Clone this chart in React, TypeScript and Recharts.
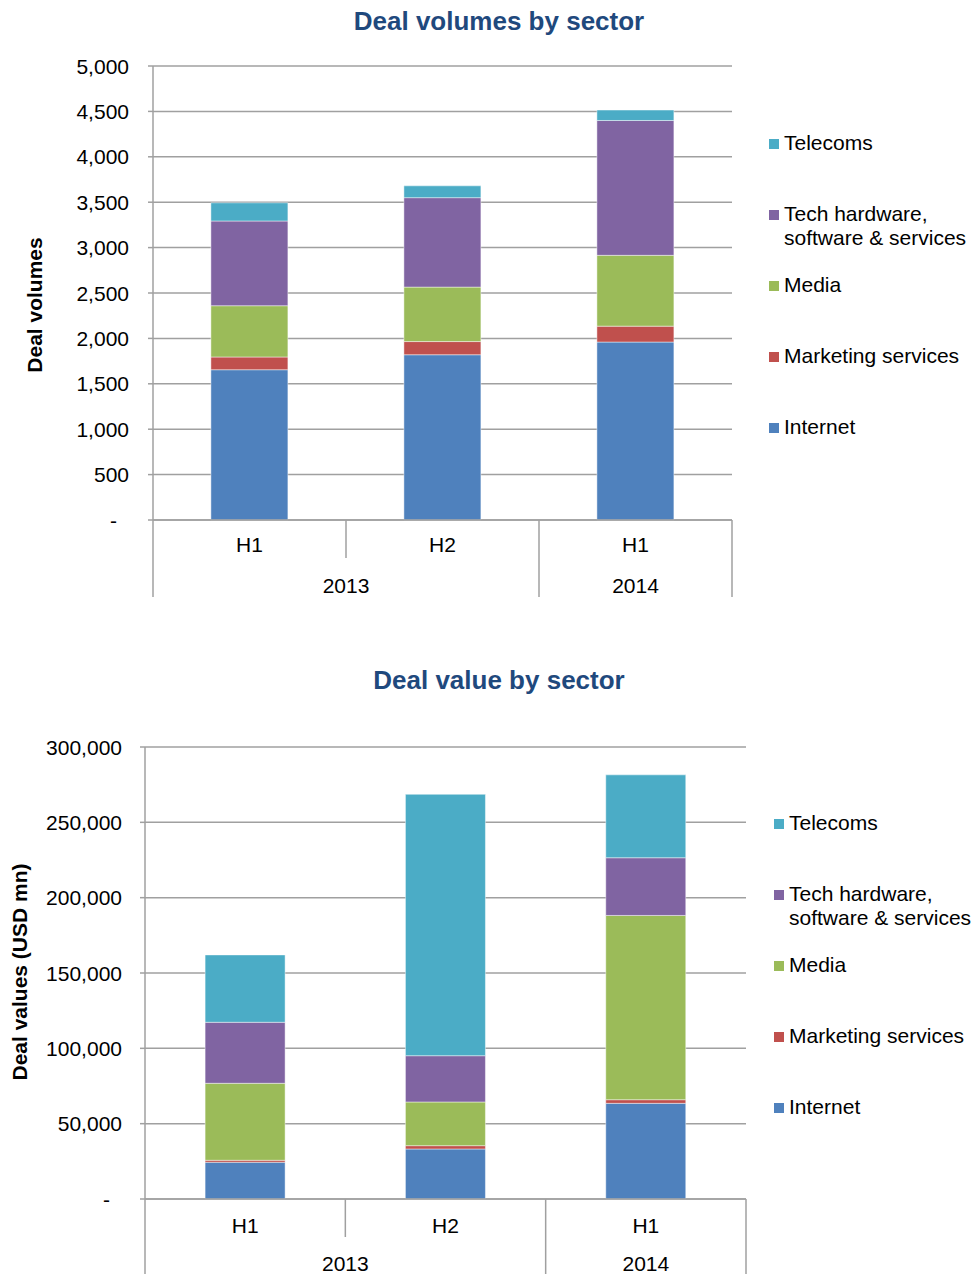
import React from "react";
import { BarChart, Bar, XAxis, YAxis, CartesianGrid, Legend } from "recharts";

const categories = ["H1", "H2", "H1"];
const years = ["2013", "2013", "2014"];

// deal volumes (count)
const volInternet = [1655, 1820, 1960];
const volMarketing = [140, 145, 175];
const volMedia = [565, 600, 780];
const volTech = [933, 985, 1485];
const volTelecoms = [200, 130, 115];

// deal values (USD mn)
const valInternet = [24400, 33200, 63500];
const valMarketing = [1300, 2200, 2400];
const valMedia = [51100, 29000, 122300];
const valTech = [40500, 30700, 38300];
const valTelecoms = [44700, 173500, 55000];

const volTicks = [0, 500, 1000, 1500, 2000, 2500, 3000, 3500, 4000, 4500, 5000];
const valTicks = [0, 50000, 100000, 150000, 200000, 250000, 300000];

const sectorKeys = ["internet", "marketing", "media", "tech", "telecoms"];
const sectorNames = [
  "Internet",
  "Marketing services",
  "Media",
  "Tech hardware,\nsoftware & services",
  "Telecoms",
];
const sectorColors = ["#4F81BD", "#C0504D", "#9BBB59", "#8064A2", "#4BACC6"];

const FONT = "'Liberation Sans', Arial, sans-serif";
const GRID = "#a0a0a0";

function buildRows(series: number[][]) {
  return categories.map((c, i) => {
    const row: Record<string, any> = { id: `${years[i]} ${c}` };
    sectorKeys.forEach((k, s) => (row[k] = series[s][i]));
    return row;
  });
}

const volRows = buildRows([volInternet, volMarketing, volMedia, volTech, volTelecoms]);
const valRows = buildRows([valInternet, valMarketing, valMedia, valTech, valTelecoms]);

function makeXTick(band: number, depth: number, hDy: number, yearDy: number) {
  return (props: any) => {
    const { x, y, payload } = props;
    const i: number = props.index ?? payload.index;
    const left = x - band / 2;
    const groupStart = i === 0 || years[i] !== years[i - 1];
    const isLast = i === categories.length - 1;
    let span = 0;
    while (i + span < years.length && years[i + span] === years[i]) span++;
    return (
      <g>
        <line x1={left} y1={y} x2={left} y2={y + (groupStart ? depth : 38)} stroke={GRID} strokeWidth={1.5} />
        {isLast && (
          <line x1={x + band / 2} y1={y} x2={x + band / 2} y2={y + depth} stroke={GRID} strokeWidth={1.5} />
        )}
        <text x={x} y={y + hDy} textAnchor="middle" dominantBaseline="central" fontSize={21} fontFamily={FONT} fill="#000">
          {categories[i]}
        </text>
        {groupStart && (
          <text
            x={left + (span * band) / 2}
            y={y + yearDy}
            textAnchor="middle"
            dominantBaseline="central"
            fontSize={21}
            fontFamily={FONT}
            fill="#000"
          >
            {years[i]}
          </text>
        )}
      </g>
    );
  };
}

const YTick = (props: any) => {
  const { x, y, payload } = props;
  const v = payload.value;
  return (
    <text
      x={v === 0 ? x - 12 : x}
      y={y}
      textAnchor="end"
      dominantBaseline="central"
      fontSize={21}
      fontFamily={FONT}
      fill="#000"
    >
      {v === 0 ? "-" : v.toLocaleString("en-US")}
    </text>
  );
};

const renderLegend = (props: any) => {
  const payload: any[] = props.payload || [];
  return (
    <div style={{ fontFamily: FONT, fontSize: 21, lineHeight: "24px", color: "#000" }}>
      {[4, 3, 2, 1, 0].map((k) => {
        const entry = payload.find((p) => p.value === sectorNames[k]);
        return (
          <div key={k} style={{ height: 71, display: "flex", alignItems: "flex-start" }}>
            <span
              style={{
                width: 10,
                height: 10,
                marginTop: 8,
                marginRight: 5,
                flex: "none",
                background: entry?.color ?? sectorColors[k],
              }}
            />
            <span>
              {sectorNames[k].split("\n").map((line) => (
                <div key={line} style={{ whiteSpace: "nowrap" }}>
                  {line}
                </div>
              ))}
            </span>
          </div>
        );
      })}
    </div>
  );
};

interface PanelProps {
  rows: Record<string, any>[];
  ticks: number[];
  height: number;
  top: number;
  right: number;
  yWidth: number;
  xHeight: number;
  tickMargin: number;
  hDy: number;
  yearDy: number;
  legendLeft: number;
  legendTop: number;
}

function Panel(p: PanelProps) {
  const plotWidth = 977 - p.yWidth - p.right;
  const band = plotWidth / categories.length;
  return (
    <BarChart
      width={977}
      height={p.height}
      data={p.rows}
      margin={{ top: p.top, right: p.right, bottom: 0, left: 0 }}
      barCategoryGap="30%"
    >
      <CartesianGrid vertical={false} stroke={GRID} strokeWidth={1.5} />
      <XAxis
        dataKey="id"
        height={p.xHeight}
        interval={0}
        tickLine={false}
        tickSize={0}
        tickMargin={0}
        axisLine={{ stroke: GRID, strokeWidth: 1.5 }}
        tick={makeXTick(band, p.xHeight, p.hDy, p.yearDy)}
      />
      <YAxis
        type="number"
        width={p.yWidth}
        domain={[0, p.ticks[p.ticks.length - 1]]}
        ticks={p.ticks}
        interval={0}
        tickSize={5}
        tickMargin={p.tickMargin}
        axisLine={{ stroke: GRID, strokeWidth: 1.5 }}
        tickLine={{ stroke: GRID, strokeWidth: 1.5 }}
        tick={<YTick />}
      />
      <Legend
        layout="vertical"
        align="center"
        verticalAlign="middle"
        content={renderLegend}
        wrapperStyle={{ left: p.legendLeft, top: p.legendTop, width: 977 - p.legendLeft }}
      />
      {sectorKeys.map((k, s) => (
        <Bar
          key={k}
          dataKey={k}
          name={sectorNames[s]}
          stackId="a"
          fill={sectorColors[s]}
          stroke="#ffffff"
          strokeOpacity={0.45}
          strokeWidth={1}
          isAnimationActive={false}
        />
      ))}
    </BarChart>
  );
}

const titleStyle: React.CSSProperties = {
  position: "absolute",
  left: 0,
  width: 998,
  textAlign: "center",
  fontFamily: FONT,
  fontWeight: "bold",
  fontSize: 26,
  lineHeight: "30px",
  color: "#1F497D",
  whiteSpace: "nowrap",
};

const yLabelStyle = (cx: number, cy: number): React.CSSProperties => ({
  position: "absolute",
  left: cx,
  top: cy,
  transform: "translate(-50%, -50%) rotate(-90deg)",
  fontFamily: FONT,
  fontWeight: "bold",
  fontSize: 21,
  lineHeight: "24px",
  color: "#000",
  whiteSpace: "nowrap",
});

export default function App() {
  return (
    <div
      style={{
        position: "absolute",
        left: 0,
        top: 0,
        width: 977,
        height: 1274,
        background: "#fff",
        overflow: "hidden",
      }}
    >
      <div style={{ position: "absolute", left: 0, top: 0 }}>
        <Panel
          rows={volRows}
          ticks={volTicks}
          height={597}
          top={66}
          right={245}
          yWidth={153}
          xHeight={77}
          tickMargin={19}
          hDy={24}
          yearDy={65}
          legendLeft={769}
          legendTop={131}
        />
      </div>
      <div style={{ position: "absolute", left: 0, top: 650 }}>
        <Panel
          rows={valRows}
          ticks={valTicks}
          height={624}
          top={97}
          right={231}
          yWidth={145}
          xHeight={75}
          tickMargin={18}
          hDy={26}
          yearDy={64}
          legendLeft={774}
          legendTop={161}
        />
      </div>
      <div style={{ ...titleStyle, top: 6 }}>Deal volumes by sector</div>
      <div style={{ ...titleStyle, top: 665 }}>Deal value by sector</div>
      <div style={yLabelStyle(35, 305)}>Deal volumes</div>
      <div style={yLabelStyle(20, 972)}>Deal values (USD mn)</div>
    </div>
  );
}
